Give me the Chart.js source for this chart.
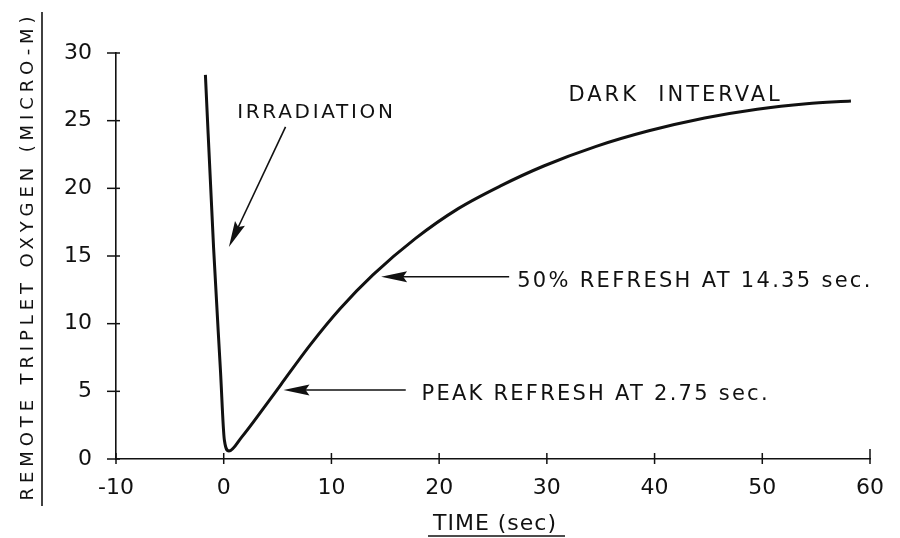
<!DOCTYPE html>
<html>
<head>
<meta charset="utf-8">
<script src="https://cdn.jsdelivr.net/npm/chart.js@4"></script>
<style>
  html, body { margin: 0; padding: 0; background: #fff; }
  canvas { display: block; }
</style>
</head>
<body>
<canvas id="chart" width="900" height="538"></canvas>
<script>
const FONT = "'DejaVu Sans', sans-serif";

// curve: time (sec) vs remote triplet oxygen (micro-M)
const times = [-1.7, -0.94, -0.3, 0.06, 0.49, 1.65, 3.79, 5.31, 8.05, 10.8, 13.85, 17.81, 21.77, 25.75, 29.71, 34.58, 39.47, 44.65, 49.53, 54.11, 58.23];
const oxygen = [28.38, 15.6, 6.5, 1.4, 0.59, 1.6, 3.85, 5.5, 8.45, 11.1, 13.6, 16.3, 18.5, 20.2, 21.65, 23.1, 24.25, 25.2, 25.85, 26.25, 26.45];

const xTicks = [-10, 0, 10, 20, 30, 40, 50, 60];
const yTicks = [0, 5, 10, 15, 20, 25, 30];

const xTitle = "TIME (sec)";
const yTitle = "REMOTE TRIPLET OXYGEN (MICRO-M)";

// callouts, anchored in data units (text baseline-left, arrow from -> to)
const notes = [
  { text: "IRRADIATION", x: 1.25, y: 25.2, size: 20, spacing: 2.7, from: [5.74, 24.54], to: [0.48, 15.67] },
  { text: "DARK  INTERVAL", x: 32.0, y: 26.48, size: 21, spacing: 3 },
  { text: "50% REFRESH AT 14.35 sec.", x: 27.24, y: 12.73, size: 21, spacing: 2.3, from: [26.5, 13.47], to: [14.61, 13.47] },
  { text: "PEAK REFRESH AT 2.75 sec.", x: 18.36, y: 4.36, size: 21, spacing: 2.25, from: [16.9, 5.1], to: [5.55, 5.1] },
];

function drawArrow(ctx, x1, y1, x2, y2) {
  const a = Math.atan2(y2 - y1, x2 - x1);
  const len = 26, half = 5.5;
  ctx.beginPath();
  ctx.moveTo(x1, y1);
  ctx.lineTo(x2 - Math.cos(a) * len * 0.7, y2 - Math.sin(a) * len * 0.7);
  ctx.stroke();
  ctx.beginPath();
  ctx.moveTo(x2, y2);
  ctx.lineTo(x2 - len * Math.cos(a) - half * Math.sin(a), y2 - len * Math.sin(a) + half * Math.cos(a));
  ctx.lineTo(x2 - len * 0.85 * Math.cos(a), y2 - len * 0.85 * Math.sin(a));
  ctx.lineTo(x2 - len * Math.cos(a) + half * Math.sin(a), y2 - len * Math.sin(a) - half * Math.cos(a));
  ctx.closePath();
  ctx.fill();
}

const decorations = {
  id: "decorations",
  afterDraw(chart) {
    const ctx = chart.ctx;
    const xs = chart.scales.x, ys = chart.scales.y;
    const area = chart.chartArea;
    ctx.save();
    ctx.strokeStyle = "#111";
    ctx.fillStyle = "#111";

    // tick marks crossing the axes
    ctx.lineWidth = 1.5;
    ys.ticks.forEach(t => {
      const py = ys.getPixelForValue(t.value);
      ctx.beginPath();
      ctx.moveTo(area.left - 9, py);
      ctx.lineTo(area.left + 4, py);
      ctx.stroke();
    });
    xs.ticks.forEach((t, i) => {
      const px = xs.getPixelForValue(t.value);
      const up = i === xs.ticks.length - 1 ? 10 : 6;
      ctx.beginPath();
      ctx.moveTo(px, area.bottom - up);
      ctx.lineTo(px, area.bottom + 5);
      ctx.stroke();
    });

    // callouts
    ctx.textAlign = "left";
    ctx.textBaseline = "alphabetic";
    notes.forEach(n => {
      ctx.font = n.size + "px " + FONT;
      ctx.letterSpacing = n.spacing + "px";
      ctx.fillText(n.text, xs.getPixelForValue(n.x), ys.getPixelForValue(n.y));
      if (n.from) {
        ctx.lineWidth = 1.6;
        drawArrow(ctx,
          xs.getPixelForValue(n.from[0]), ys.getPixelForValue(n.from[1]),
          xs.getPixelForValue(n.to[0]), ys.getPixelForValue(n.to[1]));
      }
    });

    // axis titles, underlined
    const cy = (area.top + area.bottom) / 2;
    ctx.save();
    ctx.translate(33, cy);
    ctx.rotate(-Math.PI / 2);
    ctx.font = "18px " + FONT;
    ctx.letterSpacing = "4.9px";
    ctx.textAlign = "center";
    ctx.fillText(yTitle, 0, 0);
    ctx.restore();
    ctx.lineWidth = 1.6;
    ctx.beginPath();
    ctx.moveTo(42, cy - 244);
    ctx.lineTo(42, cy + 250);
    ctx.stroke();

    const cx = (area.left + area.right) / 2 + 2;
    ctx.font = "22px " + FONT;
    ctx.letterSpacing = "1px";
    ctx.textAlign = "center";
    ctx.fillText(xTitle, cx, 530);
    ctx.beginPath();
    ctx.moveTo(cx - 67, 536);
    ctx.lineTo(cx + 70, 536);
    ctx.stroke();
    ctx.restore();
  }
};

new Chart(document.getElementById("chart"), {
  type: "scatter",
  data: {
    datasets: [{
      data: times.map((t, i) => ({ x: t, y: oxygen[i] })),
      showLine: true,
      borderColor: "#111",
      borderWidth: 3,
      pointRadius: 0,
      cubicInterpolationMode: "monotone",
    }],
  },
  options: {
    responsive: false,
    animation: false,
    layout: { padding: { top: 53, right: 19, left: 0, bottom: 0 } },
    plugins: {
      legend: { display: false },
      tooltip: { enabled: false },
    },
    scales: {
      x: {
        type: "linear",
        min: xTicks[0],
        max: xTicks[xTicks.length - 1],
        afterBuildTicks: s => { s.ticks = xTicks.map(v => ({ value: v })); },
        afterFit: s => { s.height = 79; },
        grid: { display: false, drawTicks: false },
        border: { display: true, color: "#111", width: 1.6 },
        ticks: { padding: 16, color: "#111", font: { family: FONT, size: 22 }, maxRotation: 0 },
      },
      y: {
        type: "linear",
        min: yTicks[0],
        max: yTicks[yTicks.length - 1],
        afterBuildTicks: s => { s.ticks = yTicks.map(v => ({ value: v })); },
        afterFit: s => { s.width = 116; },
        grid: { display: false, drawTicks: false },
        border: { display: true, color: "#111", width: 1.6 },
        ticks: { padding: 24, color: "#111", font: { family: FONT, size: 22 } },
      },
    },
  },
  plugins: [decorations],
});
</script>
</body>
</html>
